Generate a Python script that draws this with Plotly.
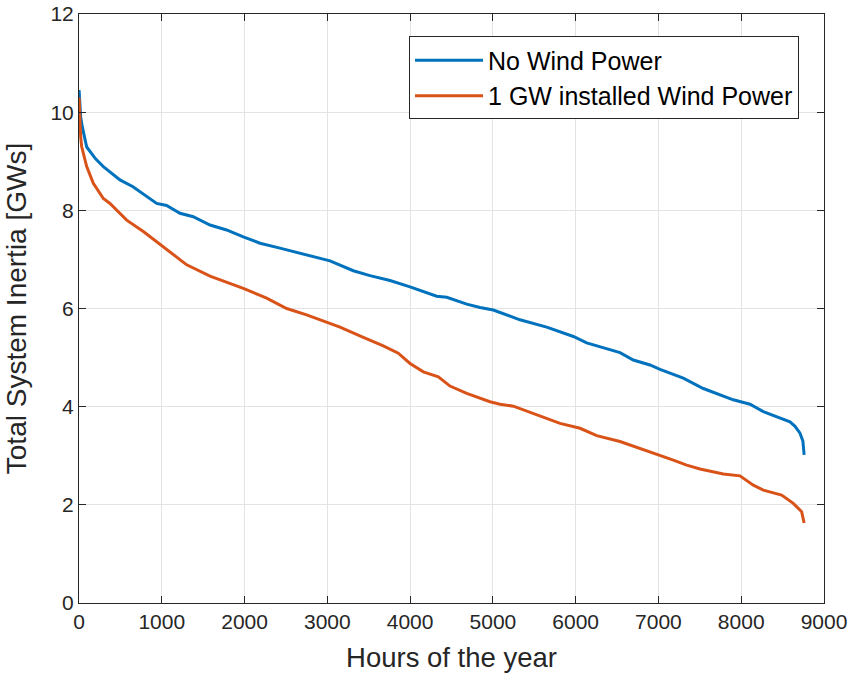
import plotly.graph_objects as go

# Data
hours_no_wind = [1, 8, 20, 40, 93, 200, 294, 495, 652, 938, 1058, 1220, 1380, 1583, 1783, 1985,
                 2187, 2428, 2670, 2911, 3032, 3314, 3515, 3757, 3999, 4321, 4442, 4684, 4844,
                 5005, 5327, 5650, 5972, 6133, 6536, 6696, 6898, 7019, 7300, 7542, 7904, 8106,
                 8267, 8589, 8650, 8710, 8745, 8760]
inertia_no_wind = [10.45, 10.2, 9.9, 9.7, 9.29, 9.05, 8.89, 8.62, 8.48, 8.14, 8.1, 7.94, 7.87, 7.70,
                   7.6, 7.46, 7.33, 7.23, 7.12, 7.02, 6.97, 6.77, 6.67, 6.57, 6.44, 6.25, 6.23, 6.09,
                   6.02, 5.97, 5.77, 5.62, 5.43, 5.30, 5.10, 4.95, 4.85, 4.76, 4.58, 4.37, 4.14, 4.05,
                   3.90, 3.69, 3.6, 3.46, 3.3, 3.02]

hours_wind = [1, 8, 20, 32, 93, 173, 294, 374, 576, 777, 1018, 1301, 1583, 1985, 2267, 2509, 2750,
              3012, 3153, 3435, 3676, 3857, 3999, 4160, 4341, 4482, 4684, 4965, 5086, 5247, 5448,
              5811, 6053, 6254, 6536, 6777, 6979, 7180, 7341, 7502, 7784, 7985, 8146, 8267, 8488,
              8629, 8730, 8760]
inertia_wind = [10.3, 9.9, 9.5, 9.3, 8.89, 8.55, 8.24, 8.14, 7.80, 7.57, 7.26, 6.89, 6.66, 6.41,
                6.21, 6.00, 5.87, 5.70, 5.62, 5.41, 5.24, 5.09, 4.88, 4.71, 4.61, 4.42, 4.27, 4.10,
                4.05, 4.01, 3.88, 3.66, 3.56, 3.41, 3.29, 3.15, 3.04, 2.91, 2.81, 2.73, 2.63, 2.59,
                2.40, 2.30, 2.20, 2.03, 1.86, 1.63]

series_names = ["No Wind Power", "1 GW installed Wind Power"]
x_ticks = [0, 1000, 2000, 3000, 4000, 5000, 6000, 7000, 8000, 9000]
y_ticks = [0, 2, 4, 6, 8, 10, 12]

FONT = "Liberation Sans, Arial, Helvetica, sans-serif"
AX = "#262626"

fig = go.Figure()
fig.add_trace(go.Scatter(x=hours_no_wind, y=inertia_no_wind, mode="lines",
                         name=series_names[0], line=dict(color="#0072BD", width=3)))
fig.add_trace(go.Scatter(x=hours_wind, y=inertia_wind, mode="lines",
                         name=series_names[1], line=dict(color="#D95319", width=3)))

axis_common = dict(
    showline=True, linecolor=AX, linewidth=1, mirror="ticks",
    ticks="inside", ticklen=7, tickcolor=AX, tickwidth=1,
    showgrid=True, gridcolor="#e3e3e3", gridwidth=1,
    zeroline=False, tickfont=dict(family=FONT, size=21, color=AX),
    automargin=False,
)

fig.update_layout(
    width=852, height=682,
    margin=dict(l=79, r=28, t=14, b=79),
    paper_bgcolor="white", plot_bgcolor="white",
    font=dict(family=FONT, color=AX),
    xaxis=dict(range=[0, 9000], tickvals=x_ticks,
               title=dict(text="Hours of the year", font=dict(family=FONT, size=27.5, color=AX)),
               **axis_common),
    yaxis=dict(range=[0, 12], tickvals=y_ticks,
               title=dict(text="Total System Inertia [GWs]", font=dict(family=FONT, size=28, color=AX)),
               **axis_common),
    legend=dict(x=0.443, y=0.962, xanchor="left", yanchor="top",
                bgcolor="white", bordercolor=AX, borderwidth=1,
                font=dict(family=FONT, size=25, color="black"),
                itemwidth=68, tracegroupgap=0),
    showlegend=True,
)

fig.write_html("out.html")
